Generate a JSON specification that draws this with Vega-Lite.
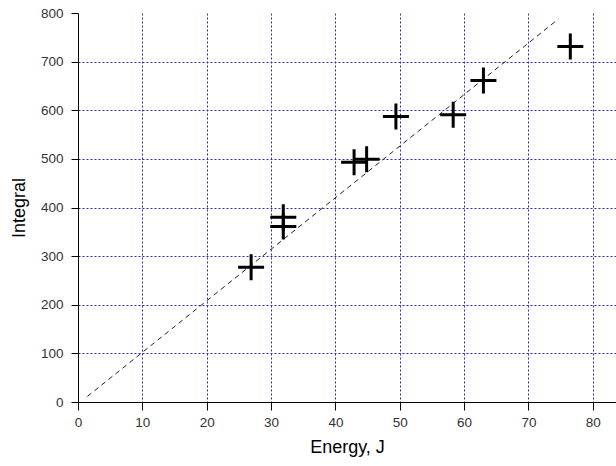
{
  "$schema": "https://vega.github.io/schema/vega-lite/v6.json",
  "width": 538,
  "height": 389,
  "autosize": "none",
  "padding": {"left": 78, "top": 13, "right": 0, "bottom": 64},
  "background": "white",
  "config": {"view": {"stroke": null}},
  "datasets": {
    "points": [
      {"energy": 26.9, "integral": 277},
      {"energy": 31.9, "integral": 380},
      {"energy": 31.9, "integral": 361},
      {"energy": 42.9, "integral": 493},
      {"energy": 44.85, "integral": 499},
      {"energy": 49.4, "integral": 587},
      {"energy": 58.3, "integral": 591},
      {"energy": 63.0, "integral": 661},
      {"energy": 76.5, "integral": 731}
    ],
    "fit": [
      {"energy": 1.46, "integral": 11.5},
      {"energy": 74.65, "integral": 787.6}
    ]
  },
  "layer": [
    {
      "data": {"name": "fit"},
      "mark": {"type": "line", "color": "#222222", "strokeWidth": 1, "strokeDash": [5, 4]},
      "encoding": {
        "x": {
          "field": "energy", "type": "quantitative",
          "scale": {"domain": [0, 83.6], "nice": false, "zero": false},
          "axis": {
            "title": "Energy, J",
            "values": [0,5,10,15,20,25,30,35,40,45,50,55,60,65,70,75,80],
            "labelExpr": "datum.value % 10 == 0 ? datum.label : ''",
            "labelFont": "Liberation Sans", "labelFontSize": 13.5, "labelColor": "#333333",
            "labelPadding": 5, "labelFlush": false, "labelOverlap": false,
            "domainColor": "black", "domainWidth": 1,
            "tickColor": "black", "tickWidth": 1,
            "tickSize": {"condition": {"test": "datum.value % 10 != 0", "value": 4}, "value": 8},
            "grid": true,
            "gridColor": "#2b2bb0", "gridDash": [2, 2], "gridWidth": 1,
            "gridOpacity": {"condition": {"test": "datum.value % 10 != 0 || datum.value == 0", "value": 0}, "value": 1},
            "titleFont": "Liberation Sans", "titleFontSize": 18, "titleFontWeight": "normal", "titleColor": "black",
            "titlePadding": 10
          }
        },
        "y": {
          "field": "integral", "type": "quantitative",
          "scale": {"domain": [0, 800], "nice": false},
          "axis": {
            "title": "Integral",
            "values": [0,50,100,150,200,250,300,350,400,450,500,550,600,650,700,750,800],
            "labelExpr": "datum.value % 100 == 0 ? datum.label : ''",
            "labelFont": "Liberation Sans", "labelFontSize": 13.5, "labelColor": "#333333",
            "labelPadding": 8, "labelFlush": false, "labelOverlap": false,
            "domainColor": "black", "domainWidth": 1,
            "tickColor": "black", "tickWidth": 1,
            "tickSize": {"condition": {"test": "datum.value % 100 != 0", "value": 5}, "value": 7},
            "grid": true,
            "gridColor": "#2b2bb0", "gridDash": [2, 2], "gridWidth": 1,
            "gridOpacity": {"condition": {"test": "datum.value % 100 != 0 || datum.value == 0 || datum.value == 800", "value": 0}, "value": 1},
            "titleFont": "Liberation Sans", "titleFontSize": 18, "titleFontWeight": "normal", "titleColor": "black",
            "titlePadding": 12
          }
        }
      }
    },
    {
      "data": {"name": "points"},
      "mark": {"type": "point", "shape": "M-1,0H1M0,-1V1", "filled": false, "stroke": "black", "strokeWidth": 3, "size": 676, "opacity": 1, "strokeCap": "butt"},
      "encoding": {
        "x": {"field": "energy", "type": "quantitative"},
        "y": {"field": "integral", "type": "quantitative"}
      }
    }
  ]
}
